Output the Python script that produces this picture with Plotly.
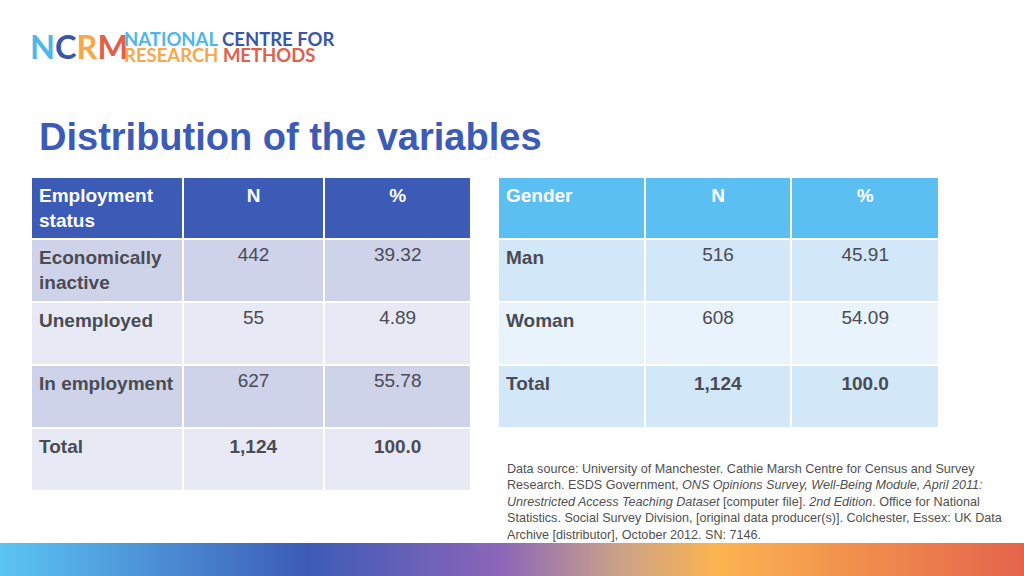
import plotly.graph_objects as go

# ---------------- data ----------------
emp_header = ["Employment<br>status", "N", "%"]
emp_categories = ["Economically<br>inactive", "Unemployed", "In\u00a0employment", "Total"]
emp_n = ["442", "55", "627", "1,124"]
emp_pct = ["39.32", "4.89", "55.78", "100.0"]

gen_header = ["Gender", "N", "%"]
gen_categories = ["Man", "Woman", "Total"]
gen_n = ["516", "608", "1,124"]
gen_pct = ["45.91", "54.09", "100.0"]

W, H = 1024, 576
FONT = "Liberation Sans, Arial, Helvetica, sans-serif"
TXT = "#4a4b55"


def bold_total(values, cats):
    return [f"<b>{v}</b>" if c == "Total" else v for v, c in zip(values, cats)]


def py(px):
    return 1 - px / H


fig = go.Figure()

# ---------------- left table ----------------
emp_row_fill = ["#ced3e9", "#e7e9f4", "#ced3e9", "#e7e9f4"]
fig.add_trace(go.Table(
    domain=dict(x=[31 / W, 471 / W], y=[0.05, py(177)]),
    columnwidth=[151, 141, 146],
    header=dict(
        values=[f"<b>{h}</b>" for h in emp_header],
        fill_color="#3b5bb6",
        line=dict(color="white", width=2),
        align=["left", "center", "center"],
        font=dict(family=FONT, size=19, color="white"),
        height=62,
    ),
    cells=dict(
        values=[[f"<b>{c}</b>" for c in emp_categories],
                bold_total(emp_n, emp_categories),
                bold_total(emp_pct, emp_categories)],
        fill_color=[emp_row_fill] * 3,
        line=dict(color="white", width=2),
        align=["left", "center", "center"],
        font=dict(family=FONT, size=19, color=TXT),
        height=63,
    ),
))

# ---------------- right table ----------------
gen_row_fill = ["#d2e7f7", "#e8f3fc", "#d2e7f7"]
fig.add_trace(go.Table(
    domain=dict(x=[498 / W, 939 / W], y=[0.2, py(177)]),
    columnwidth=[146, 146, 147],
    header=dict(
        values=[f"<b>{h}</b>" for h in gen_header],
        fill_color="#5bc0f1",
        line=dict(color="white", width=2),
        align=["left", "center", "center"],
        font=dict(family=FONT, size=19, color="white"),
        height=62,
    ),
    cells=dict(
        values=[[f"<b>{c}</b>" for c in gen_categories],
                bold_total(gen_n, gen_categories),
                bold_total(gen_pct, gen_categories)],
        fill_color=[gen_row_fill] * 3,
        line=dict(color="white", width=2),
        align=["left", "center", "center"],
        font=dict(family=FONT, size=19, color=TXT),
        height=63,
    ),
))

# ---------------- bottom gradient band ----------------
fig.add_trace(go.Scatter(
    x=[0, W, W, 0, 0], y=[0, 0, 33, 33, 0],
    mode="lines", line=dict(width=0),
    fill="toself",
    fillgradient=dict(
        type="horizontal",
        colorscale=[[0, "#5bc5f3"], [0.30, "#3c5bb6"], [0.49, "#8c66b9"],
                    [0.60, "#c9a08a"], [0.70, "#fbb450"], [1, "#e4644b"]],
    ),
    hoverinfo="skip", showlegend=False,
))

annotations = []
# title
annotations.append(dict(
    text="<b>Distribution of the variables</b>", x=37 / W, y=py(137),
    xref="paper", yref="paper", xanchor="left", yanchor="middle", showarrow=False,
    font=dict(family=FONT, size=38, color="#3b5bb6"),
))

# logo letters
logo_letters = "".join(
    f"<span style='color:{c}'>{ch}</span>"
    for ch, c in [("N", "#4fb6ea"), ("C", "#3a56a8"), ("R", "#f6a84a"), ("M", "#e0604a")]
)
annotations.append(dict(
    text=f"<b>{logo_letters}</b>", x=28 / W, y=py(47), xref="paper", yref="paper",
    xanchor="left", yanchor="middle", showarrow=False,
    font=dict(family="Lato, " + FONT, size=32.5),
))
# logo wordmark: small base size keeps the line spacing tight, spans carry the glyph size
annotations.append(dict(
    text=("<b><span style='color:#4fb6ea;font-size:18.5px'>NATIONAL</span>"
          "<span style='font-size:18.5px'> </span>"
          "<span style='color:#3a56a8;font-size:18.5px'>CENTRE FOR</span><br>"
          "<span style='color:#f6a84a;font-size:18.5px'>RESEARCH</span>"
          "<span style='font-size:18.5px'> </span>"
          "<span style='color:#e0604a;font-size:18.5px'>METHODS</span></b>"),
    x=122 / W, y=py(47), xref="paper", yref="paper", xanchor="left", yanchor="middle",
    align="left", showarrow=False, font=dict(family="Lato, " + FONT, size=12.3),
))

# data source
source = ("Data source: University of Manchester. Cathie Marsh Centre for Census and Survey<br>"
          "Research. ESDS Government, <i>ONS Opinions Survey, Well-Being Module, April 2011:</i><br>"
          "<i>Unrestricted Access Teaching Dataset</i> [computer file]. <i>2nd Edition</i>. Office for National<br>"
          "Statistics. Social Survey Division, [original data producer(s)]. Colchester, Essex: UK Data<br>"
          "Archive [distributor], October 2012. SN: 7146.")
annotations.append(dict(
    text=source, x=505 / W, y=py(460), xref="paper", yref="paper",
    xanchor="left", yanchor="top", align="left", showarrow=False,
    font=dict(family=FONT, size=12.6, color="#505050"),
))

fig.update_layout(
    width=W, height=H,
    margin=dict(l=0, r=0, t=0, b=0),
    paper_bgcolor="white", plot_bgcolor="rgba(0,0,0,0)",
    xaxis=dict(range=[0, W], visible=False, fixedrange=True, domain=[0, 1]),
    yaxis=dict(range=[0, H], visible=False, fixedrange=True, domain=[0, 1]),
    annotations=annotations,
    showlegend=False,
)

fig.write_html("out.html",
               config={"displayModeBar": False},
               post_script="document.body.style.margin='0';document.body.style.overflow='hidden';")
